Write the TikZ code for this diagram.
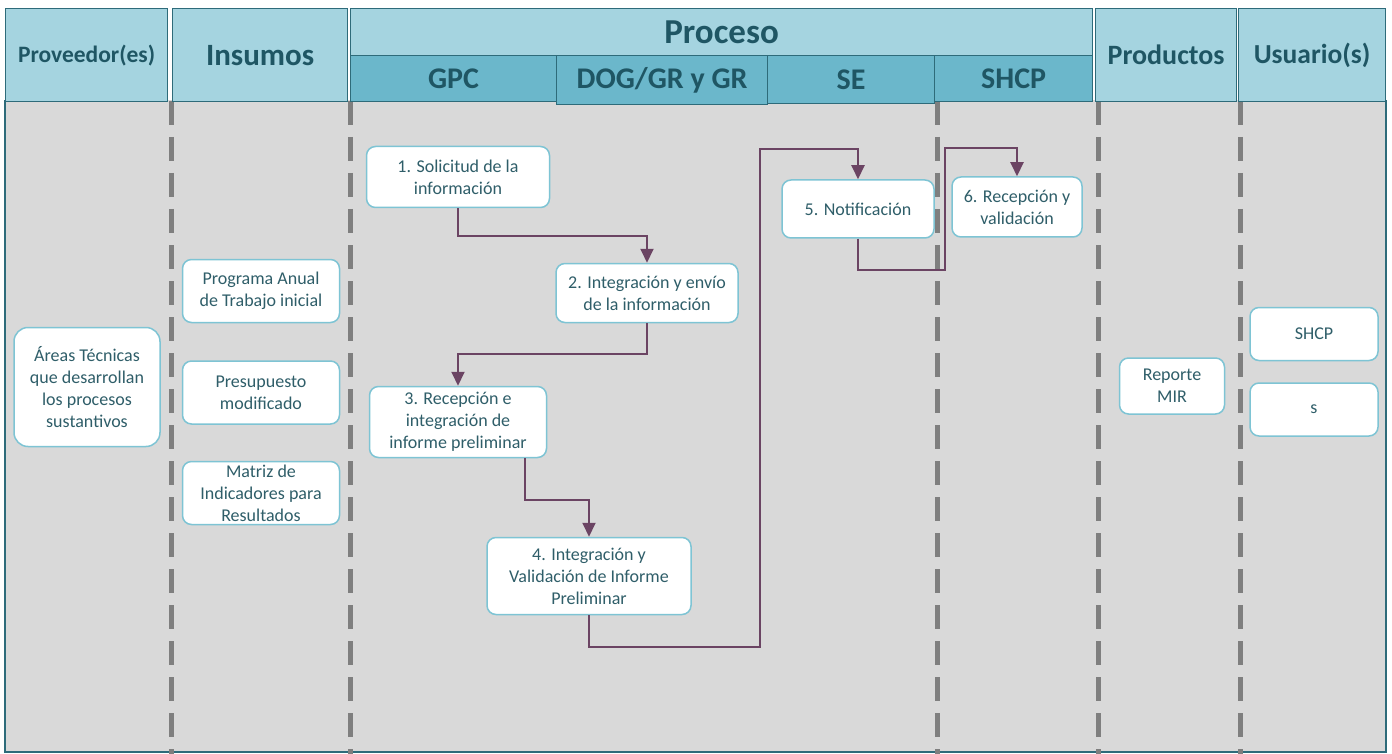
\documentclass[tikz,border=0pt]{standalone}
\usepackage{fontspec}
\setmainfont{Carlito}
\usepackage{tikz}
\usetikzlibrary{arrows.meta,positioning}

\definecolor{lanebg}{HTML}{D9D9D9}
\definecolor{hdrfill}{HTML}{A5D4E0}
\definecolor{subfill}{HTML}{6BB7CB}
\definecolor{hdrline}{HTML}{2E6B7A}
\definecolor{hdrtext}{HTML}{1F5664}
\definecolor{boxline}{HTML}{7EC4D4}
\definecolor{boxtext}{HTML}{2F5E69}
\definecolor{flow}{HTML}{6B4463}
\definecolor{sep}{HTML}{7F7F7F}

\begin{document}
\begin{tikzpicture}[x=1pt, y=-1pt,
  hdr/.style={draw=hdrline, fill=hdrfill, line width=1.2pt, anchor=north west, inner sep=0pt,
    text=hdrtext, font=\bfseries\fontsize{27.5}{30}\selectfont},
  sub/.style={hdr, fill=subfill, font=\bfseries\fontsize{30}{32}\selectfont},
  box/.style={draw=boxline, fill=white, rounded corners=9pt, line width=1.5pt, align=center,
    inner sep=2pt, text=boxtext, font=\fontsize{18}{22}\selectfont},
  insbox/.style={box, minimum width=157pt, minimum height=63pt},
  usrbox/.style={box, minimum width=128pt, minimum height=53pt},
  lane/.style={draw=sep, line width=5pt, dash pattern=on 24pt off 12pt},
  arr/.style={draw=flow, line width=2pt, -{Triangle[length=14pt,width=13pt]}}
]
  \useasboundingbox (0,0) rectangle (1392,754);
  \fill[lanebg] (5,100) rectangle (1386,752);
  \draw[hdrline, line width=1.5pt] (5,100) -- (5,752) -- (1386,752) -- (1386,100);

  % column separators
  \foreach \x in {171,350,937,1098,1240}
    \draw[lane] (\x,101) -- (\x,754);

  % header
  \node[hdr, minimum width=162pt, minimum height=93pt, font=\bfseries\fontsize{23.5}{26}\selectfont] (hprov) at (5,8) {Proveedor(es)};
  \node[hdr, minimum width=175pt, minimum height=93pt, font=\bfseries\fontsize{31}{34}\selectfont] (hins) at (172,8) {Insumos};
  \node[hdr, minimum width=742pt, minimum height=47pt, font=\bfseries\fontsize{35}{38}\selectfont] (hproc) at (350,8) {Proceso};
  \node[sub, minimum width=206pt, minimum height=46pt] (hgpc) at (350,55) {GPC};
  \node[sub, minimum width=211pt, minimum height=49pt] (hdog) at (556,55) {DOG/GR y GR};
  \node[sub, minimum width=167pt, minimum height=48pt] (hse) at (767,55) {SE};
  \node[sub, minimum width=158pt, minimum height=46pt] (hshcp) at (934,55) {SHCP};
  \node[hdr, minimum width=141pt, minimum height=93pt, font=\bfseries\fontsize{28}{30}\selectfont] (hprod) at (1095,8) {Productos};
  \node[hdr, minimum width=147pt, minimum height=93pt] (husr) at (1238,8) {Usuario(s)};

  % proveedor e insumos
  \node[box, minimum width=146pt, minimum height=119pt, rounded corners=14pt] (prov) at (87,387) {Áreas Técnicas\\que desarrollan\\los procesos\\sustantivos};
  \node[insbox] (ins1) at (261,291) {Programa Anual\\de Trabajo inicial};
  \node[insbox, below=37pt of ins1] (ins2) {Presupuesto\\modificado};
  \node[insbox, below=36pt of ins2] (ins3) {Matriz de\\Indicadores para\\Resultados};

  % proceso
  \node[box, minimum width=183pt, minimum height=61pt] (p1) at (458,177) {1. Solicitud de la\\información};
  \node[box, minimum width=182pt, minimum height=59pt] (p2) at (647,293) {2. Integración y envío\\de la información};
  \node[box, minimum width=177pt, minimum height=71pt] (p3) at (458,422) {3. Recepción e\\integración de\\informe preliminar};
  \node[box, minimum width=204pt, minimum height=77pt] (p4) at (589,576) {4. Integración y\\Validación de Informe\\Preliminar};
  \node[box, minimum width=152pt, minimum height=58pt] (p5) at (858,209) {5. Notificación};
  \node[box, minimum width=130pt, minimum height=60pt] (p6) at (1017,207) {6. Recepción y\\validación};

  % productos y usuarios
  \node[box, minimum width=105pt, minimum height=56pt] (prod) at (1172,386) {Reporte\\MIR};
  \node[usrbox] (usr1) at (1314,334) {SHCP};
  \node[usrbox, below=21pt of usr1] (usr2) {s};

  \draw[arr] (p1.south) -- ++(0,28) -| (p2.north);
  \draw[arr] (p2.south) -- ++(0,31) -| (p3.north);
  \draw[arr] ([xshift=67pt]p3.south) -- ++(0,42) -| (p4.north);
  \draw[arr] (p4.south) |- (760,647) |- ([yshift=30pt]p5.north) -- (p5.north);
  \draw[arr] (p5.south) |- (945,270) |- ([yshift=28pt]p6.north) -- (p6.north);
\end{tikzpicture}
\end{document}
